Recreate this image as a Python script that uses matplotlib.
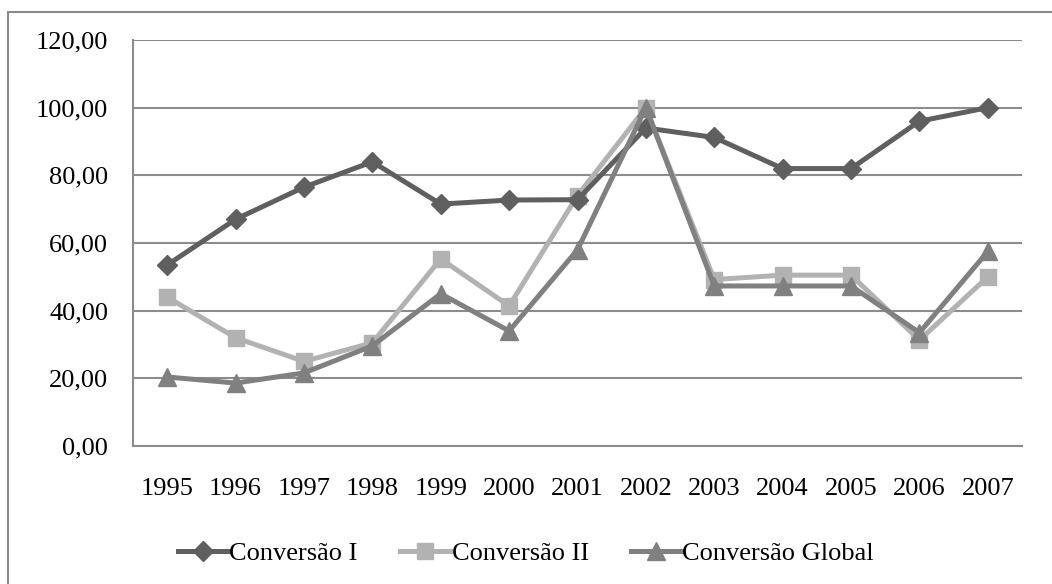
import numpy as np
import matplotlib.pyplot as plt
from matplotlib.patches import Rectangle

years = ["1995", "1996", "1997", "1998", "1999", "2000", "2001",
         "2002", "2003", "2004", "2005", "2006", "2007"]
conv_1 = [53.5, 67.0, 76.5, 84.0, 71.5, 72.7, 72.8, 94.0, 91.2, 82.0, 82.0, 96.0, 100.0]
conv_2 = [44.0, 32.0, 25.0, 30.5, 55.3, 41.4, 74.0, 100.0, 49.2, 50.5, 50.5, 31.3, 50.0]
conv_global = [20.4, 18.6, 21.6, 29.6, 45.0, 34.0, 58.0, 100.0, 47.3, 47.3, 47.3, 33.5, 57.5]
y_ticks = [0, 20, 40, 60, 80, 100, 120]

plt.rcParams['font.family'] = ['Liberation Serif', 'DejaVu Serif']

fig = plt.figure(figsize=(10.52, 5.84), dpi=100)
fig.patches.append(Rectangle((8 / 1052, -0.1), 1.2, 1.1 - 12 / 584,
                             transform=fig.transFigure, fill=False,
                             edgecolor='#8a8a8a', linewidth=1.5))

ax = fig.add_axes([133 / 1052, 1 - 446 / 584, 889 / 1052, 406 / 584])
x = np.arange(len(years))

ax.plot(x, conv_1, color='#5f5f5f', lw=3.6, marker='D', ms=10,
        label='Conversão I', zorder=5)
ax.plot(x, conv_2, color='#b2b2b2', lw=3.6, marker='s', ms=11,
        label='Conversão II', zorder=4)
ax.plot(x, conv_global, color='#808080', lw=3.6, marker='^', ms=13,
        label='Conversão Global', zorder=6)

ax.set_xlim(-0.5, len(years) - 0.5)
ax.set_ylim(0, 120)
ax.set_yticks(y_ticks)
ax.set_yticklabels([f"{v},00" for v in y_ticks])
ax.set_xticks(x)
ax.set_xticklabels(years)
ax.tick_params(length=0, labelsize=19, colors='black')
ax.tick_params(axis='y', pad=18)
ax.tick_params(axis='x', pad=23)
ax.grid(axis='y', color='#8c8c8c', lw=1.5)
ax.set_axisbelow(True)
for s in ['top', 'right']:
    ax.spines[s].set_visible(False)
for s in ['left', 'bottom']:
    ax.spines[s].set_color('#8c8c8c')
    ax.spines[s].set_linewidth(1.5)

fig.legend(loc='center', bbox_to_anchor=(0.5, 1 - 553 / 584), ncol=3,
           frameon=False, fontsize=19, handlelength=1.9, columnspacing=1.6,
           handletextpad=0.05)

fig.savefig('out.png', dpi=100)
